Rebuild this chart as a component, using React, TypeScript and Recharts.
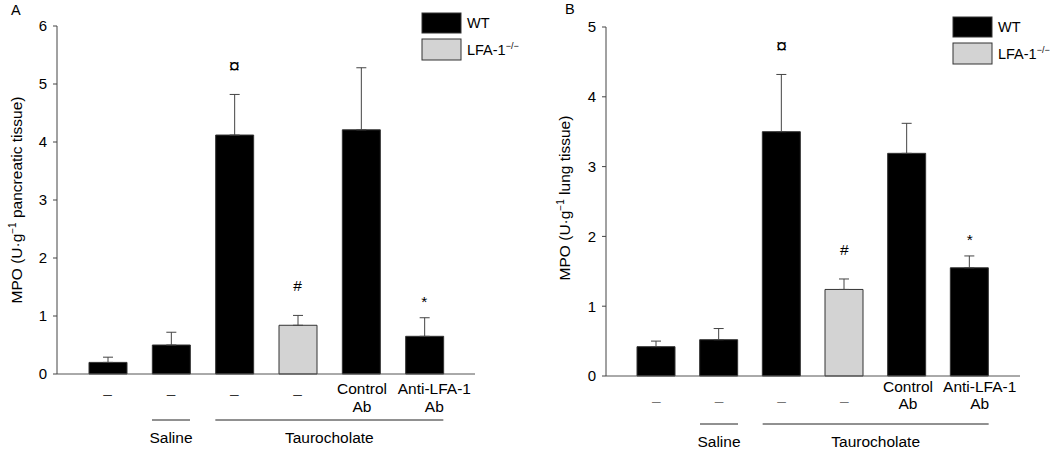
import React from "react";
import {
  ComposedChart,
  Bar,
  Line,
  XAxis,
  YAxis,
  ErrorBar,
  Cell,
  LabelList,
} from "recharts";

const FONT = "'Liberation Sans', Arial, sans-serif";
const FS = 15.5;

// treatment labels under each bar (two lines)
const line1 = ["–", "–", "–", "–", "Control", "Anti-LFA-1"];
const line2 = ["", "", "", "", "Ab", "Ab"];
const strain = ["WT", "WT", "WT", "LFA", "WT", "WT"];
const marks = ["", "", "¤", "#", "", "*"];

const groups = [
  { label: "Saline", from: 1, to: 1 },
  { label: "Taurocholate", from: 2, to: 5 },
];

const pancreasMean = [0.2, 0.5, 4.12, 0.84, 4.21, 0.65];
const pancreasSem = [0.09, 0.22, 0.7, 0.17, 1.07, 0.32];
const pancreasTicks = [0, 1, 2, 3, 4, 5, 6];

const lungMean = [0.42, 0.52, 3.5, 1.24, 3.19, 1.55];
const lungSem = [0.08, 0.16, 0.82, 0.15, 0.43, 0.17];
const lungTicks = [0, 1, 2, 3, 4, 5];

const BAR = 38;
const PAD = 19;
const H = 451;
const markGap: Record<string, number> = { "¤": 21, "#": 24, "*": 11 };
const markSize: Record<string, number> = { "¤": 20, "#": FS, "*": FS };
// the last label sits a bit right of its bar in the original
const labelShift = [0, 0, 0, 0, 1, 10];

type PanelProps = {
  left: number;
  width: number;
  yWidth: number;
  plotTop: number;
  plotBottom: number;
  means: number[];
  sems: number[];
  ticks: number[];
  dashDy: number;
  l1Dy: number;
  l2Dy: number;
  bracketDy: number;
  groupDy: number;
  dashColor: string;
};

function Panel(p: PanelProps) {
  const data = p.means.map((m, i) => ({
    id: "c" + i,
    mean: m,
    err: [0, p.sems[i]],
    top: m + p.sems[i],
    mark: marks[i],
  }));
  const plotW = p.width - p.yWidth - 5;
  const band = (plotW - 2 * PAD) / data.length;

  const renderTick = (t: any) => {
    const i = data.findIndex((d) => d.id === t.payload.value);
    const x = t.x;
    const lx = x + labelShift[i];
    const y0 = p.plotBottom;
    const g = groups.find((gr) => gr.from === i);
    return (
      <g>
        {line2[i] ? (
          <>
            <text x={lx} y={y0 + p.l1Dy} textAnchor="middle" fontSize={FS} fill="#000" fontFamily={FONT}>
              {line1[i]}
            </text>
            <text x={lx} y={y0 + p.l2Dy} textAnchor="middle" fontSize={FS} fill="#000" fontFamily={FONT}>
              {line2[i]}
            </text>
          </>
        ) : (
          <text x={lx} y={y0 + p.dashDy} textAnchor="middle" fontSize={FS} fill={p.dashColor} fontFamily={FONT}>
            {line1[i]}
          </text>
        )}
        {g && (
          <>
            <line
              x1={x - BAR / 2}
              x2={x + (g.to - g.from) * band + BAR / 2}
              y1={y0 + p.bracketDy}
              y2={y0 + p.bracketDy}
              stroke="#222"
              strokeWidth={1}
            />
            <text
              x={x + ((g.to - g.from) * band) / 2}
              y={y0 + p.groupDy}
              textAnchor="middle"
              fontSize={FS}
              fill="#000"
              fontFamily={FONT}
            >
              {g.label}
            </text>
          </>
        )}
      </g>
    );
  };

  const renderMark = (lp: any) => {
    const v = lp.value;
    if (!v) return null;
    const x = lp.x ?? lp.viewBox?.x;
    const y = lp.y ?? lp.viewBox?.y;
    return (
      <text x={x} y={y - markGap[v]} textAnchor="middle" fontSize={markSize[v]} fill="#000" fontFamily={FONT}>
        {v}
      </text>
    );
  };

  return (
    <div style={{ position: "absolute", left: p.left, top: 0 }}>
      <ComposedChart
        width={p.width}
        height={H}
        data={data}
        margin={{ top: p.plotTop, right: 5, left: 0, bottom: 0 }}
      >
        <XAxis
          dataKey="id"
          height={H - p.plotBottom}
          axisLine={{ stroke: "#555" }}
          tickLine={false}
          padding={{ left: PAD, right: PAD }}
          interval={0}
          tick={renderTick}
        />
        <YAxis
          type="number"
          domain={[0, p.ticks[p.ticks.length - 1]]}
          ticks={p.ticks}
          width={p.yWidth}
          tickSize={4}
          tickMargin={6}
          axisLine={{ stroke: "#444" }}
          tickLine={{ stroke: "#444" }}
          tick={{ fill: "#000", fontSize: 15, fontFamily: FONT }}
          interval={0}
        />
        <Bar dataKey="mean" barSize={BAR} stroke="#333" strokeWidth={1} isAnimationActive={false}>
          {data.map((d, i) => (
            <Cell key={d.id} fill={strain[i] === "WT" ? "#000" : "#d3d3d3"} />
          ))}
          <ErrorBar dataKey="err" direction="y" width={5} stroke="#444" strokeWidth={1} />
        </Bar>
        <Line
          dataKey="top"
          stroke="none"
          dot={false}
          activeDot={false}
          legendType="none"
          isAnimationActive={false}
        >
          <LabelList dataKey="mark" content={renderMark} />
        </Line>
      </ComposedChart>
    </div>
  );
}

function LegendBox({ x, y }: { x: number; y: number }) {
  return (
    <g fontFamily={FONT} fontSize={14.5} fill="#000">
      <rect x={x} y={y} width={39} height={20} fill="#000" stroke="#333" />
      <text x={x + 45} y={y + 15}>WT</text>
      <rect x={x} y={y + 26} width={39} height={21} fill="#d3d3d3" stroke="#333" />
      <text x={x + 45} y={y + 42}>
        LFA-1
        <tspan dy={-6} fontSize={9}>−/−</tspan>
      </text>
    </g>
  );
}

function YLabel({ x, y, text }: { x: number; y: number; text: string }) {
  return (
    <text
      transform={`translate(${x},${y}) rotate(-90)`}
      textAnchor="middle"
      fontFamily={FONT}
      fontSize={FS}
      fill="#000"
    >
      MPO (U·g
      <tspan dy={-6} fontSize={10}>−1</tspan>
      <tspan dy={6}>{" " + text})</tspan>
    </text>
  );
}

export default function App() {
  return (
    <div
      style={{
        position: "absolute",
        left: 0,
        top: 0,
        width: 1062,
        height: H,
        background: "#fff",
        fontFamily: FONT,
      }}
    >
      <Panel
        left={0}
        width={480}
        yWidth={57}
        plotTop={26}
        plotBottom={374}
        means={pancreasMean}
        sems={pancreasSem}
        ticks={pancreasTicks}
        dashDy={25}
        l1Dy={19.5}
        l2Dy={38}
        bracketDy={46}
        groupDy={69}
        dashColor="#333"
      />
      <Panel
        left={540}
        width={485}
        yWidth={66}
        plotTop={27}
        plotBottom={376}
        means={lungMean}
        sems={lungSem}
        ticks={lungTicks}
        dashDy={30}
        l1Dy={15.5}
        l2Dy={33}
        bracketDy={48}
        groupDy={71}
        dashColor="#777"
      />
      <svg
        width={1062}
        height={H}
        style={{ position: "absolute", left: 0, top: 0, pointerEvents: "none" }}
      >
        <text x={11} y={15} fontFamily={FONT} fontSize={14.5} fill="#000">A</text>
        <text x={565} y={14} fontFamily={FONT} fontSize={14.5} fill="#000">B</text>
        <YLabel x={22} y={200} text="pancreatic tissue" />
        <YLabel x={570} y={198} text="lung tissue" />
        <LegendBox x={422} y={13} />
        <LegendBox x={953} y={17} />
      </svg>
    </div>
  );
}
